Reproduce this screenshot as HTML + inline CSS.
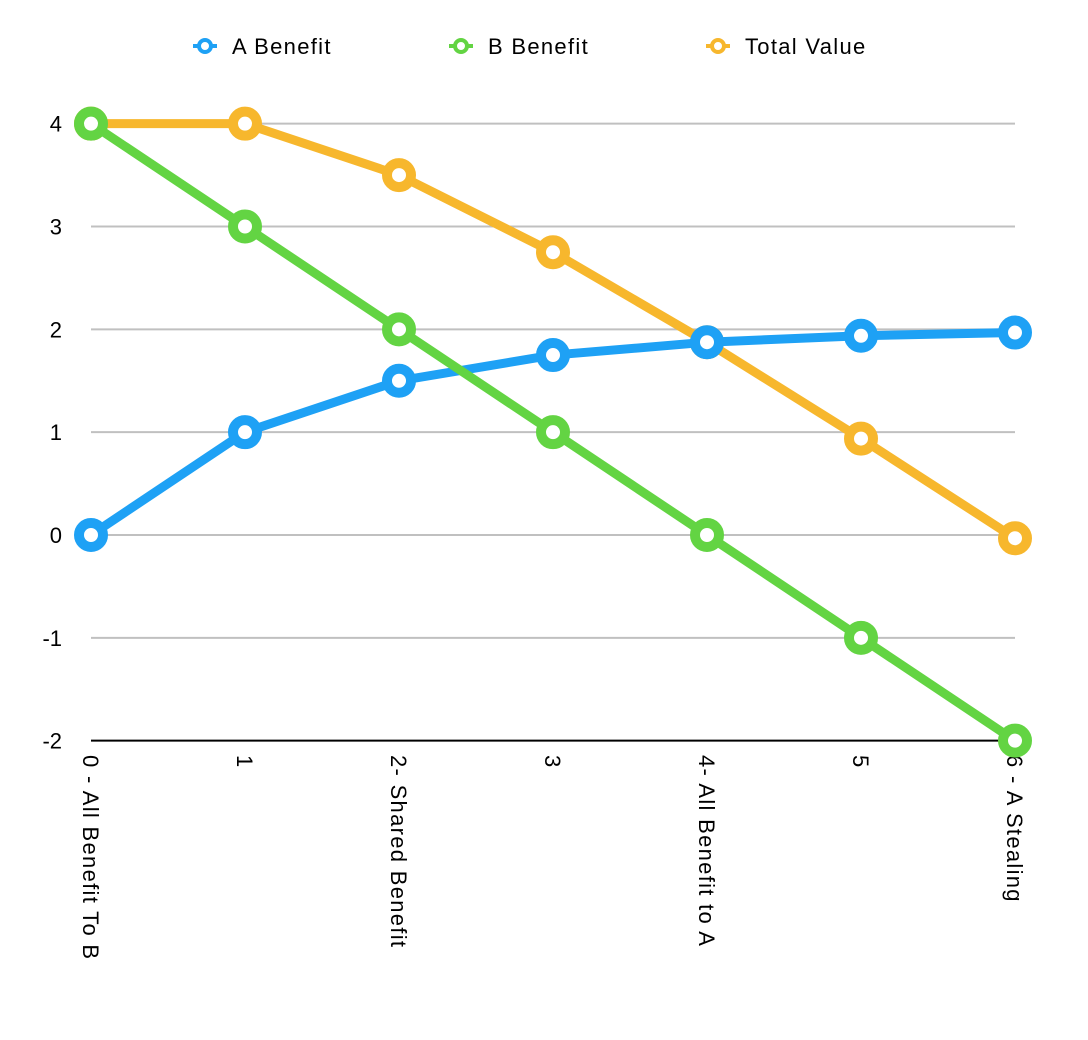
<!DOCTYPE html>
<html><head><meta charset="utf-8"><style>
body{margin:0;background:#fff;}
svg{display:block;font-family:"Liberation Sans",Arial,sans-serif;}
</style></head><body>
<svg id="chart" width="1088" height="1040" xmlns="http://www.w3.org/2000/svg"></svg>
<script>
const categories=["0 - All Benefit To B","1","2- Shared Benefit","3","4- All Benefit to A","5","6 - A Stealing"];
const seriesNames=["A Benefit","B Benefit","Total Value"];
const aBenefit=[0,1,1.5,1.75,1.875,1.9375,1.96875];
const bBenefit=[4,3,2,1,0,-1,-2];
const totalValue=[4,4,3.5,2.75,1.875,0.9375,-0.03125];
const yTicks=[-2,-1,0,1,2,3,4];
const colors=["#1ea1f5","#63d443","#f7b72d"];
const NS="http://www.w3.org/2000/svg";
const svg=document.getElementById('chart');
const x=i=>91+i*154;
const y=v=>535-v*102.83;
function mk(t,a){const e=document.createElementNS(NS,t);for(const k in a)e.setAttribute(k,a[k]);svg.appendChild(e);return e;}
yTicks.forEach(v=>{
  if(v!==-2){const g=mk('line',{x1:91,x2:1015,y1:y(v),y2:y(v),stroke:'#c0c0c0','stroke-width':2});
  
  }
  const t=mk('text',{x:62,y:y(v)+8,'text-anchor':'end','font-size':22,fill:'#000'});
  t.textContent=v;
  
  
});
const ax=mk('line',{x1:91,x2:1015,y1:y(-2),y2:y(-2),stroke:'#000','stroke-width':2});


categories.forEach((c,i)=>{
  const t=mk('text',{x:0,y:0,'font-size':22,'letter-spacing':1.3,fill:'#000',transform:`translate(${x(i)-8},755) rotate(90)`});
  t.textContent=c;
  
  
});
const data=[aBenefit,bBenefit,totalValue];
[2,0,1].forEach(s=>{
  const d=data[s];
  const p=mk('polyline',{points:d.map((v,i)=>x(i)+','+y(v)).join(' '),fill:'none',stroke:colors[s],'stroke-width':9,'stroke-linejoin':'round'});
  
  
  d.forEach((v,i)=>{
    const c=mk('circle',{cx:x(i),cy:y(v),r:12,fill:'#fff',stroke:colors[s],'stroke-width':10});
    
    
  });
});
const lx=[205,461,718];
seriesNames.forEach((n,s)=>{
  const l=mk('line',{x1:lx[s]-12,x2:lx[s]+12,y1:46,y2:46,stroke:colors[s],'stroke-width':4});
  
  
  const c=mk('circle',{cx:lx[s],cy:46,r:6,fill:'#fff',stroke:colors[s],'stroke-width':4});
  
  
  const t=mk('text',{x:lx[s]+27,y:54,'font-size':22,'letter-spacing':1.3,fill:'#000'});
  t.textContent=n;
  
  
});
</script>
</body></html>
